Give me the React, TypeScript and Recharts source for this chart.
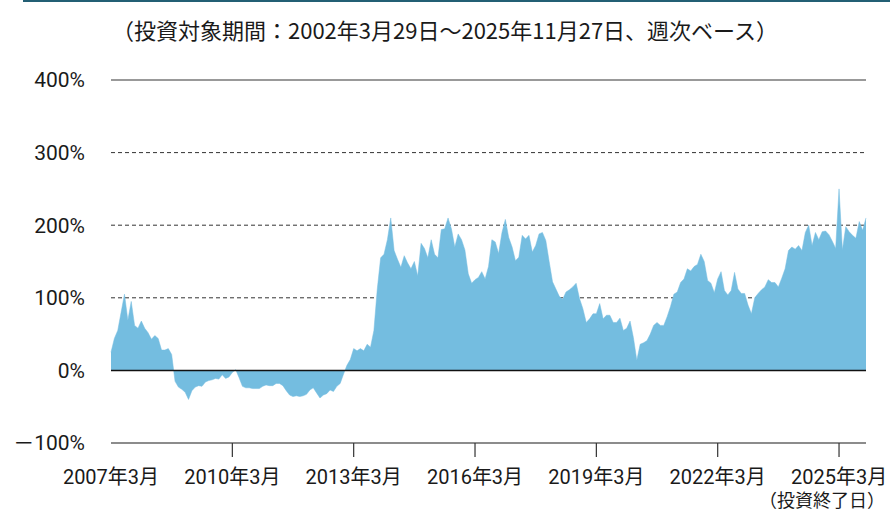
import { AreaChart, Area, XAxis, YAxis, CartesianGrid, ReferenceLine } from 'recharts';

// monthly readings (%), Mar 2007 .. Nov 2025
const y2007 = [25, 44, 55, 80, 105, 69, 95, 62, 58, 68];
const y2008 = [58, 52, 43, 48, 44, 28, 28, 30, 22, -15, -23, -26];
const y2009 = [-30, -40, -28, -23, -21, -22, -16, -14, -13, -11, -12, -6];
const y2010 = [-11, -9, -3, 1, -10, -22, -24, -24, -25, -25, -25, -22];
const y2011 = [-20, -21, -21, -18, -18, -21, -28, -34, -36, -35, -36, -35];
const y2012 = [-33, -27, -24, -31, -38, -34, -32, -27, -29, -22, -18, -5];
const y2013 = [7, 15, 30, 27, 30, 27, 36, 32, 55, 112, 155, 160];
const y2014 = [180, 210, 165, 153, 142, 158, 148, 140, 150, 130, 175, 168];
const y2015 = [155, 180, 160, 155, 194, 195, 210, 195, 170, 188, 180, 166];
const y2016 = [133, 120, 125, 128, 136, 126, 143, 180, 177, 161, 190, 208];
const y2017 = [183, 170, 151, 156, 186, 181, 186, 163, 172, 188, 190, 179];
const y2018 = [150, 122, 112, 102, 98, 108, 111, 115, 120, 99, 85, 66];
const y2019 = [71, 78, 78, 92, 71, 76, 76, 66, 66, 72, 55, 58];
const y2020 = [68, 45, 14, 36, 38, 41, 50, 62, 66, 62, 62, 74];
const y2021 = [88, 105, 108, 121, 126, 140, 137, 143, 146, 160, 150, 124];
const y2022 = [120, 107, 126, 136, 110, 104, 110, 135, 112, 106, 106, 90];
const y2023 = [78, 100, 106, 111, 115, 125, 121, 121, 115, 127, 140, 165];
const y2024 = [170, 167, 172, 165, 190, 200, 172, 190, 180, 191, 192, 187];
const y2025 = [178, 168, 250, 166, 198, 191, 186, 182, 205, 193, 210];

const tickYears = [2007, 2010, 2013, 2016, 2019, 2022, 2025];
const yTicks = [-100, 0, 100, 200, 300, 400];

const byYear: [number, number[]][] = [
  [2007, y2007], [2008, y2008], [2009, y2009], [2010, y2010], [2011, y2011],
  [2012, y2012], [2013, y2013], [2014, y2014], [2015, y2015], [2016, y2016],
  [2017, y2017], [2018, y2018], [2019, y2019], [2020, y2020], [2021, y2021],
  [2022, y2022], [2023, y2023], [2024, y2024], [2025, y2025],
];

const data = byYear.flatMap(([yr, vals]) => {
  const m0 = yr === 2007 ? 2 : 0;
  return vals.map((v, i) => ({ t: yr + (m0 + i) / 12, v }));
});

const tStart = data[0].t;
const tEnd = data[data.length - 1].t;
const xTicks = tickYears.map((y) => y + 2 / 12);

const labelFont = 'Roboto, "Noto Sans CJK JP", sans-serif';

function XTick(props: any) {
  const { x, y, payload, index } = props;
  const yr = Math.round(payload.value - 2 / 12);
  const last = yr === tickYears[tickYears.length - 1];
  return (
    <g>
      {index > 0 && <line x1={x} x2={x} y1={y} y2={y + 14} stroke="#333" strokeWidth={1.2} />}
      <text x={x} y={y + 41} textAnchor="middle" fontSize={20} fill="#1a1a1a" fontFamily={labelFont}>
        {yr}年3月
      </text>
      {last && (
        <text x={x - 17} y={y + 64} textAnchor="middle" fontSize={18} fill="#1a1a1a" fontFamily={labelFont}>
          （投資終了日）
        </text>
      )}
    </g>
  );
}

const fmtY = (v: number) => (v < 0 ? `－${-v}%` : `${v}%`);

export default function App() {
  return (
    <div style={{ position: 'relative', width: 890, height: 513, background: '#fff' }}>
      <style>{'body{margin:0}'}</style>
      <div style={{ position: 'absolute', top: 0, left: 23, width: 867, height: 2, background: '#235f74' }} />
      <div
        style={{
          position: 'absolute',
          top: 13,
          left: 0,
          width: 890,
          textAlign: 'center',
          fontSize: 22,
          fontFamily: '"Noto Sans CJK JP", sans-serif',
          color: '#1a1a1a',
        }}
      >
        （投資対象期間：2002年3月29日～2025年11月27日、週次ベース）
      </div>
      <AreaChart width={890} height={513} data={data} margin={{ top: 80, right: 24, bottom: 40, left: 0 }}>
        <CartesianGrid vertical={false} horizontalValues={[100, 200, 300]} stroke="#333" strokeDasharray="4 3" />
        <XAxis
          type="number"
          dataKey="t"
          domain={[tStart, tEnd]}
          ticks={xTicks}
          interval={0}
          height={30}
          axisLine={{ stroke: '#666', strokeWidth: 1.5 }}
          tickLine={false}
          tickSize={0}
          tickMargin={0}
          tick={<XTick />}
        />
        <YAxis
          domain={[-100, 400]}
          ticks={yTicks}
          interval={0}
          width={111}
          axisLine={false}
          tickLine={false}
          tickSize={0}
          tickMargin={26}
          tick={{ fontSize: 21, fill: '#1a1a1a', fontFamily: labelFont }}
          tickFormatter={fmtY}
        />
        <ReferenceLine y={400} stroke="#777" strokeWidth={1.5} />
        <Area
          type="linear"
          dataKey="v"
          baseValue={0}
          fill="#74bde0"
          fillOpacity={1}
          stroke="#74bde0"
          strokeWidth={0.5}
          isAnimationActive={false}
        />
        <ReferenceLine y={0} stroke="#111" strokeWidth={1.5} />
      </AreaChart>
    </div>
  );
}
